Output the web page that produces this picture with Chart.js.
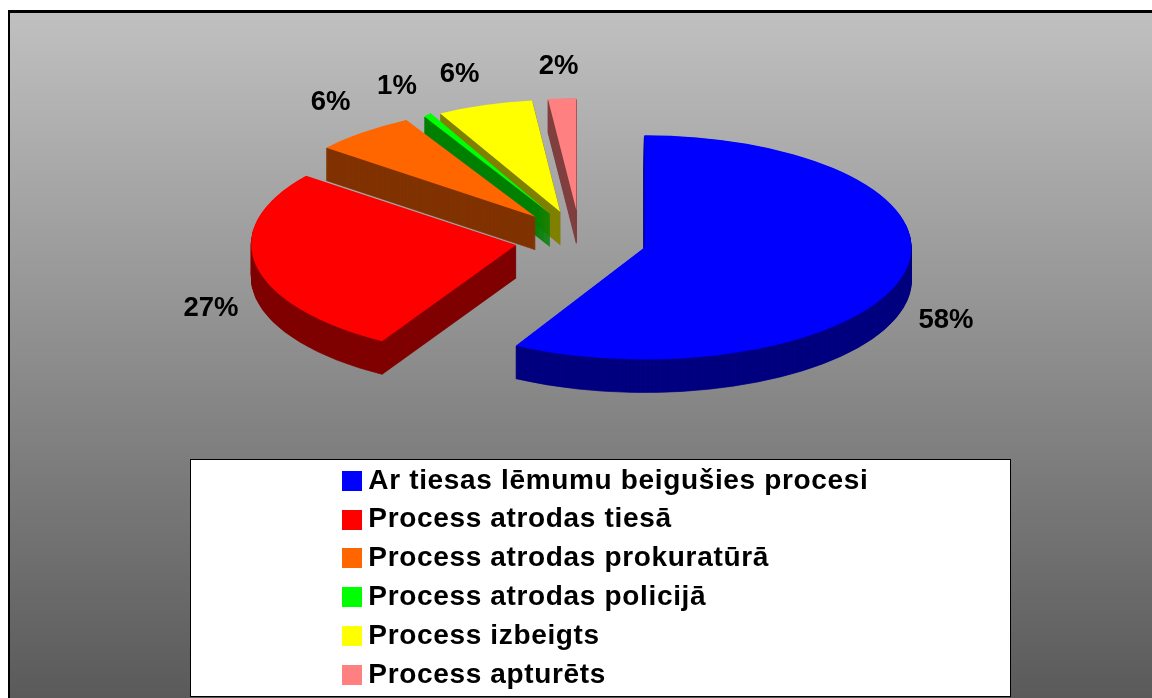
<!DOCTYPE html>
<html>
<head>
<meta charset="utf-8">
<style>
  html, body { margin: 0; padding: 0; background: #fff; overflow: hidden; }
  #wrap { position: absolute; left: 0; top: 0; width: 1152px; height: 698px; }
</style>
<script src="https://cdn.jsdelivr.net/npm/chart.js@4"></script>
</head>
<body>
<div id="wrap"><canvas id="pie"></canvas></div>
<script>
const categories = [
  'Ar tiesas lēmumu beigušies procesi',
  'Process atrodas tiesā',
  'Process atrodas prokuratūrā',
  'Process atrodas policijā',
  'Process izbeigts',
  'Process apturēts'
];
const shares = [58, 27, 6, 1, 6, 2];
const topColors = ['#0000ff', '#ff0000', '#ff6600', '#00ff00', '#ffff00', '#ff8080'];
const sideColors = ['#000080', '#800000', '#803300', '#008000', '#808000', '#804040'];

// look of the fake 3d pie
const pieCenter = { x: 580.5, y: 240 };
const pieRadius = 267;
const squash = 0.42;
const explode = 66;
const explodeSquash = 0.45;
const depth = 33;
// the far slices get narrower in the original perspective: x scale, skew, tilt, shift and lift per slice
const sliceScale = [1, 0.992, 1.024, 0.56, 0.96, 0.85];
const sliceSkew = [0, -0.065, -0.185, 0.48, -0.037, 0];
const sliceTilt = [0, 0.015, 0.015, 0.015, 0, 0];
const sliceShift = [0, 0, 0, 3, 0, 0];
const sliceLift = [0, 1.5, 1.5, 1, 0, 0];
// nudge of each % label from the rim point of its slice
const labelNudge = [[43, 46], [-44.5, 38], [-22, -36], [-14, -33], [-18, -33], [-1, -34]];

const FONT = '"Liberation Sans", Arial, sans-serif';

// legend swatch as small canvas, so the gap to the text can be narrower than the default
function swatch(color) {
  const c = document.createElement('canvas');
  c.width = 20;
  c.height = 20;
  const g = c.getContext('2d');
  g.fillStyle = color;
  g.fillRect(0, 0, 20, 20);
  return c;
}
const swatches = topColors.map(swatch);

const fakePie = {
  id: 'fakePie',
  beforeDraw(chart) {
    const ctx = chart.ctx;
    const W = chart.width, H = chart.height;
    ctx.save();
    ctx.fillStyle = '#000';
    ctx.fillRect(8, 10, W - 8, H - 10);
    const grad = ctx.createLinearGradient(0, 12, 0, H);
    grad.addColorStop(0, '#c0c0c0');
    grad.addColorStop(1, '#5a5a5a');
    ctx.fillStyle = grad;
    ctx.fillRect(10, 13, W - 10, H - 13);
    // legend box
    ctx.fillStyle = '#fff';
    ctx.fillRect(190, 459, 820, 237);
    ctx.strokeStyle = '#000';
    ctx.lineWidth = 1;
    ctx.strokeRect(190.5, 459.5, 820, 237);
    ctx.restore();
    ctx.letterSpacing = '0.66px'; // legend text in the reference is a bit spaced
  },
  afterLayout(chart) {
    // move the legend into the white box
    chart.legend.left = 338.5;
    chart.legend.top = 456;
    chart.legend.bottom = 720;
  },
  beforeDatasetsDraw(chart) {
    const ctx = chart.ctx;
    const arcs = chart.getDatasetMeta(0).data;
    // back slices first
    for (let i = arcs.length - 1; i >= 0; i--) {
      const arc = arcs[i];
      const mid = (arc.startAngle + arc.endAngle) / 2;
      const opts = arc.options;
      const place = function (down) {
        ctx.save();
        ctx.translate(pieCenter.x + sliceShift[i] + Math.cos(mid) * explode, pieCenter.y + down - sliceLift[i] + Math.sin(mid) * explode * explodeSquash);
        ctx.transform(sliceScale[i], sliceTilt[i], sliceSkew[i] * squash, squash, 0, 0);
        ctx.translate(-arc.x, -arc.y);
      };
      // thin border on the side layers, otherwise the sharp tips come out faint
      arc.options = Object.assign({}, opts, { backgroundColor: sideColors[i], borderColor: sideColors[i], borderWidth: 1 });
      for (let d = depth; d > 0; d--) {
        place(d);
        arc.draw(ctx);
        ctx.restore();
      }
      arc.options = opts;
      place(0);
      arc.draw(ctx);
      ctx.restore();
    }
    return false;
  },
  afterDraw(chart) {
    const ctx = chart.ctx;
    const arcs = chart.getDatasetMeta(0).data;
    ctx.save();
    ctx.letterSpacing = '0px';
    ctx.font = 'bold 27.5px ' + FONT;
    ctx.fillStyle = '#000';
    ctx.textAlign = 'center';
    ctx.textBaseline = 'middle';
    arcs.forEach(function (arc, i) {
      const mid = (arc.startAngle + arc.endAngle) / 2;
      const r = pieRadius + explode;
      const x = pieCenter.x + Math.cos(mid) * r + labelNudge[i][0];
      const y = pieCenter.y + Math.sin(mid) * r * squash + labelNudge[i][1];
      ctx.fillText(shares[i] + '%', x, y);
    });
    ctx.restore();
  }
};

document.addEventListener('DOMContentLoaded', function () {
  const ctx = document.getElementById('pie').getContext('2d');
  new Chart(ctx, {
    type: 'pie',
    data: {
      labels: categories,
      datasets: [{
        data: shares,
        backgroundColor: topColors,
        borderWidth: 0
      }]
    },
    options: {
      responsive: true,
      maintainAspectRatio: false,
      animation: false,
      radius: pieRadius,
      plugins: {
        tooltip: { enabled: false },
        legend: {
          position: 'chartArea',
          align: 'start',
          labels: {
            usePointStyle: true,
            pointStyleWidth: 5,
            boxHeight: 28,
            padding: 10.8,
            color: '#000',
            font: { family: FONT, size: 28, weight: 'bold' },
            generateLabels(chart) {
              const items = Chart.overrides.pie.plugins.legend.labels.generateLabels(chart);
              items.forEach(function (item, i) { item.pointStyle = swatches[i]; });
              return items;
            }
          }
        }
      }
    },
    plugins: [fakePie]
  });
});
</script>
</body>
</html>
